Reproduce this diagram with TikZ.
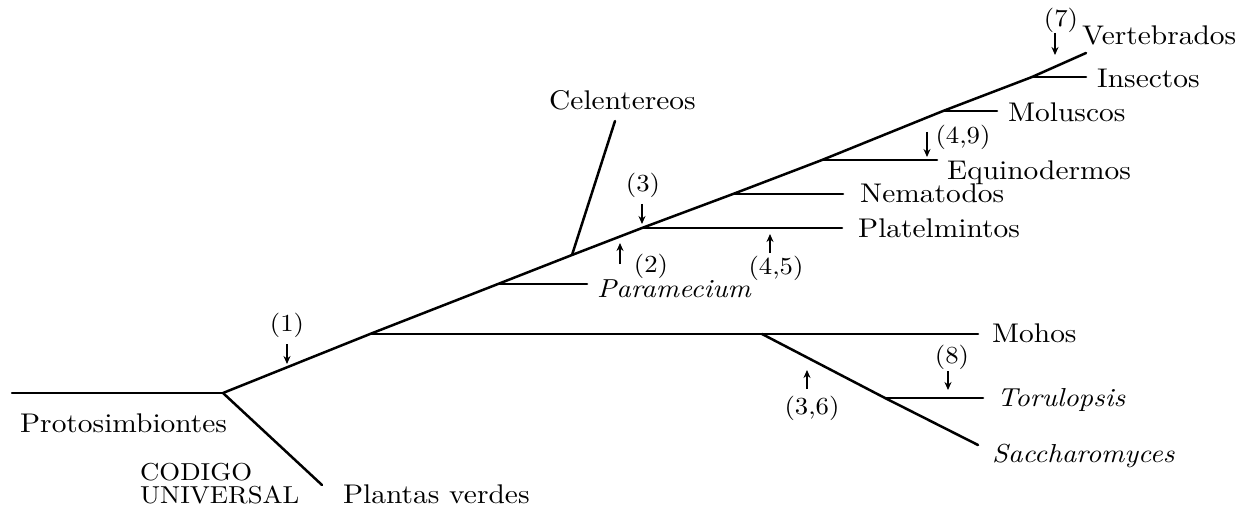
\documentclass[tikz,border=0pt]{standalone}
\usepackage{fontspec}
\setmainfont{lmroman10-regular.otf}[ItalicFont=lmroman10-italic.otf, BoldFont=lmroman10-bold.otf, FakeStretch=1.09]
\usetikzlibrary{arrows.meta}
\begin{document}
\begin{tikzpicture}[x=1pt,y=-1pt,
  br/.style={line width=2.5pt, line cap=round, line join=round},
  ptr/.style={line width=1.6pt,-{Stealth[length=8pt,width=7pt]}},
  lab/.style={inner sep=0pt, font=\fontsize{27}{30}\selectfont},
  ilab/.style={inner sep=0pt, font=\fontsize{26}{29}\selectfont\itshape},
  num/.style={inner sep=0pt, font=\fontsize{24.5}{28}\selectfont}]
\useasboundingbox (0,0) rectangle (1242,513);
% junctions
\coordinate (P0) at (12,393);
\coordinate (J0) at (223,393);
\coordinate (PV) at (322,485);
\coordinate (Jmoh) at (370,334);
\coordinate (Jpar) at (498,284);
\coordinate (Jcel) at (572,255);
\coordinate (Jpla) at (642,228);
\coordinate (Jnem) at (733,194);
\coordinate (Jequ) at (822,160);
\coordinate (Jmol) at (943,111);
\coordinate (Jins) at (1032,77);
\coordinate (T) at (1086,53);
\coordinate (Jfun) at (762,334);
\coordinate (Jtor) at (885,398);
% free ends
\coordinate (Emoh) at (978,334);
\coordinate (Epar) at (587,284);
\coordinate (Ecel) at (615,121);
\coordinate (Epla) at (842,228);
\coordinate (Enem) at (843,194);
\coordinate (Eequ) at (937,160);
\coordinate (Emol) at (997,111);
\coordinate (Eins) at (1086,77);
\coordinate (Etor) at (983,398);
\coordinate (Esac) at (978,445);
% tree
\draw[br] (P0) -- (J0);
\draw[br] (J0) -- (PV);
\draw[br] (J0) -- (Jmoh) -- (Jpar) -- (Jcel) -- (Jpla) -- (Jnem) -- (Jequ) -- (Jmol) -- (Jins) -- (T);
\draw[br] (Jmoh) -- (Emoh);
\draw[br] (Jpar) -- (Epar);
\draw[br] (Jcel) -- (Ecel);
\draw[br] (Jpla) -- (Epla);
\draw[br] (Jnem) -- (Enem);
\draw[br] (Jequ) -- (Eequ);
\draw[br] (Jmol) -- (Emol);
\draw[br] (Jins) -- (Eins);
\draw[br] (Jfun) -- (Jtor) -- (Esac);
\draw[br] (Jtor) -- (Etor);
% labels
\node[lab, anchor=base west] (lpro) at (20,432) {Protosimbiontes};
\node[inner sep=0pt, align=left, font=\fontsize{24.5}{23.5}\selectfont, anchor=north west] (lcod) at (140,463) {CODIGO\\UNIVERSAL};
\node[lab, anchor=base west] (lpla) at (343,503) {Plantas verdes};
\node[lab, anchor=base west] (lcel) at (549,110) {Celentereos};
\node[ilab, anchor=base west] (lpar) at (597,297) {Paramecium};
\node[lab, anchor=base west] (lplt) at (858,237) {Platelmintos};
\node[lab, anchor=base west] (lnem) at (860,203) {Nematodos};
\node[lab, anchor=base west] (lequ) at (947,180) {Equinodermos};
\node[lab, anchor=base west] (lmol) at (1008,122) {Moluscos};
\node[lab, anchor=base west] (lins) at (1097,88) {Insectos};
\node[lab, anchor=base west] (lver) at (1082,45) {Vertebrados};
\node[lab, anchor=base west] (lmoh) at (992,342) {Mohos};
\node[ilab, anchor=base west] (ltor) at (997,406) {Torulopsis};
\node[ilab, anchor=base west] (lsac) at (992,462) {Saccharomyces};
% numbered marks
\node[num] (n1) at (287,325) {(1)};
\node[num] (n3) at (643,185) {(3)};
\node[num] (n2) at (651,266) {(2)};
\node[num] (n45) at (776,268) {(4,5)};
\node[num] (n49) at (963,137) {(4,9)};
\node[num] (n7) at (1061,20) {(7)};
\node[num] (n8) at (952,357) {(8)};
\node[num] (n36) at (812,408) {(3,6)};
% arrows
\coordinate (a1s) at (287,344); \coordinate (a1e) at (287,364);
\coordinate (a3s) at (642,204); \coordinate (a3e) at (642,224);
\coordinate (a2s) at (620,264); \coordinate (a2e) at (620,243);
\coordinate (a45s) at (770,253); \coordinate (a45e) at (770,234);
\coordinate (a49s) at (927,132); \coordinate (a49e) at (927,157);
\coordinate (a7s) at (1055,33); \coordinate (a7e) at (1055,55);
\coordinate (a8s) at (948,371); \coordinate (a8e) at (948,390);
\coordinate (a36s) at (807,389); \coordinate (a36e) at (807,370);
\draw[ptr] (a1s) -- (a1e);
\draw[ptr] (a3s) -- (a3e);
\draw[ptr] (a2s) -- (a2e);
\draw[ptr] (a45s) -- (a45e);
\draw[ptr] (a49s) -- (a49e);
\draw[ptr] (a7s) -- (a7e);
\draw[ptr] (a8s) -- (a8e);
\draw[ptr] (a36s) -- (a36e);
\end{tikzpicture}
\end{document}
